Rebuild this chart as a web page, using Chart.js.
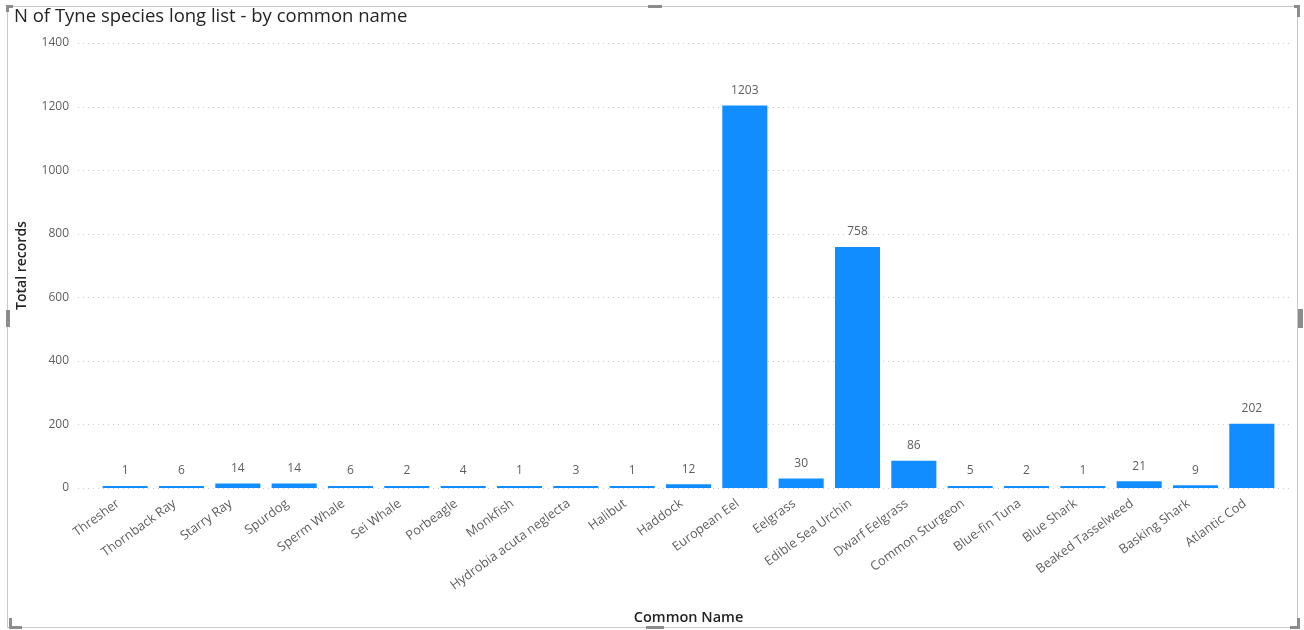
<!DOCTYPE html>
<html><head><meta charset="utf-8">
<script src="https://cdn.jsdelivr.net/npm/chart.js@4.4.1/dist/chart.umd.min.js"></script>
<style>
html,body{margin:0;padding:0;background:#fff;}
#wrap{position:relative;width:1304px;height:630px;overflow:hidden;background:#fff;}
canvas{position:absolute;left:0;top:0;}
.frame{position:absolute;left:7px;top:6px;width:1291px;height:622px;border:1px solid #c8c8c8;box-sizing:border-box;pointer-events:none;}
.h{position:absolute;background:#8c8c8c;pointer-events:none;}
</style></head><body>
<div id="wrap">
<canvas id="c" width="1304" height="630"></canvas>
<div class="frame"></div>
<div class="h" style="left:6px;top:5px;width:7px;height:3px;"></div>
<div class="h" style="left:6px;top:5px;width:3px;height:7px;"></div>
<div class="h" style="left:648px;top:5px;width:14px;height:3px;"></div>
<div class="h" style="left:1294px;top:5px;width:6px;height:3px;"></div>
<div class="h" style="left:1297px;top:5px;width:3px;height:12px;"></div>
<div class="h" style="left:6px;top:310px;width:4px;height:17px;"></div>
<div class="h" style="left:1298px;top:309px;width:5px;height:19px;"></div>
<div class="h" style="left:9px;top:618px;width:3px;height:10px;"></div>
<div class="h" style="left:9px;top:626px;width:13px;height:3px;"></div>
<div class="h" style="left:646px;top:626px;width:18px;height:3px;"></div>
<div class="h" style="left:1290px;top:626px;width:10px;height:3px;"></div>
<div class="h" style="left:1297px;top:618px;width:3px;height:10px;"></div>
</div>
<script>
const categories = ["Thresher","Thornback Ray","Starry Ray","Spurdog","Sperm Whale","Sei Whale","Porbeagle","Monkfish","Hydrobia acuta neglecta","Halibut","Haddock","European Eel","Eelgrass","Edible Sea Urchin","Dwarf Eelgrass","Common Sturgeon","Blue-fin Tuna","Blue Shark","Beaked Tasselweed","Basking Shark","Atlantic Cod"];
const totalRecords = [1,6,14,14,6,2,4,1,3,1,12,1203,30,758,86,5,2,1,21,9,202];
const yTicks = [0,200,400,600,800,1000,1200,1400];
const chartTitle = "N of Tyne species long list - by common name";
const xTitle = "Common Name";
const yTitle = "Total records";

const FONT = "'Open Sans', 'Segoe UI', sans-serif";

const gridPlugin = {
  id: 'dottedGrid',
  beforeDatasetsDraw(chart) {
    const {ctx, chartArea, scales} = chart;
    ctx.save();
    ctx.strokeStyle = '#c8c8c8';
    ctx.lineWidth = 1;
    ctx.setLineDash([1, 4]);
    scales.y.ticks.forEach(t => {
      const y = Math.round(scales.y.getPixelForValue(t.value)) + 0.5;
      ctx.beginPath();
      ctx.moveTo(chartArea.left - 19, y);
      ctx.lineTo(chartArea.right + 12, y);
      ctx.stroke();
    });
    ctx.restore();
  }
};

const labelPlugin = {
  id: 'valueLabels',
  afterDatasetsDraw(chart) {
    const {ctx} = chart;
    const meta = chart.getDatasetMeta(0);
    ctx.save();
    ctx.font = "12px " + FONT;
    ctx.fillStyle = '#605E5C';
    ctx.textAlign = 'center';
    ctx.textBaseline = 'middle';
    meta.data.forEach((bar, i) => {
      ctx.fillText(String(totalRecords[i]), bar.x, bar.y - 15);
    });
    ctx.restore();
  }
};

new Chart(document.getElementById('c'), {
  type: 'bar',
  data: {
    labels: categories,
    datasets: [{
      data: totalRecords,
      backgroundColor: '#118DFF',
      borderWidth: 0,
      minBarLength: 2,
      barPercentage: 0.8,
      categoryPercentage: 1.0
    }]
  },
  options: {
    responsive: false,
    animation: false,
    layout: { padding: { left: 14, right: 24, top: 0, bottom: 0 } },
    plugins: {
      legend: { display: false },
      tooltip: { enabled: false },
      title: {
        display: true,
        text: chartTitle,
        align: 'start',
        color: '#252423',
        font: { family: FONT, size: 18.5, weight: 'normal' },
        padding: { top: 6, bottom: 14.8 }
      }
    },
    scales: {
      x: {
        grid: { display: false, drawTicks: false },
        border: { display: false },
        ticks: {
          autoSkip: false,
          minRotation: 36,
          maxRotation: 36,
          padding: 8,
          labelOffset: -7,
          color: '#605E5C',
          font: { family: FONT, size: 12.8 }
        },
        title: {
          display: true,
          text: xTitle,
          color: '#252423',
          font: { family: FONT, size: 14.5, weight: '600' },
          padding: { top: 4, bottom: 3 }
        },
        afterFit(scale) { scale.height = 142; }
      },
      y: {
        min: 0,
        max: 1400,
        grid: { display: false, drawTicks: false },
        border: { display: false },
        afterBuildTicks(scale) { scale.ticks = yTicks.map(v => ({ value: v })); },
        ticks: {
          padding: 28,
          color: '#605E5C',
          font: { family: FONT, size: 12 },
          callback: (v) => String(v)
        },
        title: {
          display: true,
          text: yTitle,
          color: '#252423',
          font: { family: FONT, size: 14, weight: '600' },
          padding: { top: 0, bottom: 0 }
        },
        afterFit(scale) { scale.width = 83; }
      }
    }
  },
  plugins: [gridPlugin, labelPlugin]
});
</script>
</body></html>
